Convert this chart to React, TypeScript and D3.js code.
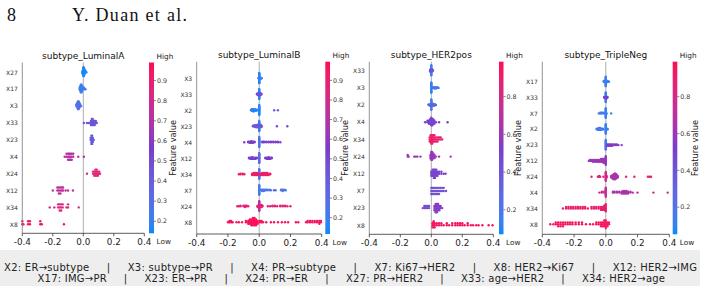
import React from "react";
import * as d3 from "d3";

// [SHAP value, feature value, number of samples]
type Cluster = [number, number, number];

// ---------- subtype_LuminalA ----------
const luminalAFeatures = ["X27", "X17", "X3", "X33", "X23", "X4", "X24", "X12", "X34", "X8"];
const luminalAShap: Cluster[][] = [
  [[-0.006, 0.15, 3], [0, 0.15, 8], [0.003, 0.16, 8], [0.006, 0.15, 6], [0.01, 0.17, 4], [0.015, 0.16, 2], [0.02, 0.15, 1]],
  [[-0.024, 0.2, 2], [-0.02, 0.22, 4], [-0.016, 0.2, 6], [-0.012, 0.2, 6], [-0.008, 0.22, 4], [-0.003, 0.2, 2], [0.005, 0.25, 2], [0.014, 0.2, 1]],
  [[-0.046, 0.28, 2], [-0.04, 0.3, 4], [-0.035, 0.3, 6], [-0.03, 0.32, 6], [-0.025, 0.3, 4], [-0.02, 0.3, 2], [-0.014, 0.28, 1]],
  [[0.004, 0.45, 1], [0.024, 0.45, 1], [0.037, 0.45, 1], [0.05, 0.45, 3], [0.056, 0.47, 4], [0.062, 0.45, 4], [0.068, 0.45, 3], [0.075, 0.46, 3], [0.082, 0.45, 2], [0.088, 0.45, 1]],
  [[0.048, 0.4, 2], [0.053, 0.4, 5], [0.058, 0.4, 5], [0.063, 0.42, 3], [0.069, 0.4, 1]],
  [[-0.122, 0.72, 1], [-0.11, 0.72, 2], [-0.1, 0.72, 3], [-0.092, 0.7, 3], [-0.085, 0.72, 3], [-0.076, 0.72, 3], [-0.066, 0.72, 2], [-0.033, 0.72, 1], [0.004, 0.72, 1]],
  [[0.024, 0.88, 1], [0.064, 0.88, 2], [0.072, 0.88, 3], [0.08, 0.88, 4], [0.088, 0.88, 4], [0.096, 0.88, 3], [0.104, 0.88, 2], [0.11, 0.88, 1]],
  [[-0.2, 0.75, 1], [-0.17, 0.75, 2], [-0.16, 0.75, 3], [-0.15, 0.75, 3], [-0.14, 0.75, 2], [-0.133, 0.75, 2], [-0.116, 0.75, 1], [-0.1, 0.75, 1], [-0.068, 0.75, 1]],
  [[-0.22, 0.85, 1], [-0.19, 0.85, 1], [-0.165, 0.85, 2], [-0.155, 0.85, 3], [-0.145, 0.85, 3], [-0.135, 0.85, 2], [-0.11, 0.85, 1], [-0.1, 0.85, 2], [-0.03, 0.85, 1]],
  [[-0.4, 0.95, 2], [-0.393, 0.95, 1], [-0.362, 0.95, 2], [-0.35, 0.95, 2], [-0.282, 0.95, 2], [-0.272, 0.95, 1], [-0.127, 0.95, 1]],
];
const luminalATicks = [0.2, 0.3, 0.4, 0.5, 0.6, 0.7, 0.8, 0.9];
const luminalARange = [0.14, 0.99];

// ---------- subtype_LuminalB ----------
const luminalBFeatures = ["X3", "X33", "X2", "X23", "X4", "X12", "X34", "X7", "X24", "X8"];
const luminalBShap: Cluster[][] = [
  [[0, 0.15, 24], [-0.004, 0.2, 2], [0.004, 0.2, 4], [0.008, 0.2, 3], [0.012, 0.2, 2], [0.016, 0.2, 1]],
  [[0, 0.15, 20], [-0.014, 0.45, 2], [-0.01, 0.45, 3], [-0.006, 0.45, 5], [0.005, 0.45, 5], [0.01, 0.45, 3], [0.014, 0.45, 2]],
  [[0, 0.15, 20], [-0.052, 0.15, 2], [-0.046, 0.15, 4], [-0.04, 0.15, 5], [-0.034, 0.15, 5], [-0.028, 0.15, 4], [-0.02, 0.15, 3], [-0.012, 0.15, 2], [0.096, 0.4, 1], [0.12, 0.4, 1]],
  [[0, 0.2, 20], [-0.04, 0.42, 2], [-0.03, 0.42, 4], [-0.02, 0.42, 5], [-0.01, 0.42, 6], [0.008, 0.42, 6], [0.015, 0.42, 3], [0.113, 0.5, 1], [0.18, 0.5, 1]],
  [[0, 0.25, 20], [-0.096, 0.55, 1], [-0.07, 0.55, 2], [-0.06, 0.55, 3], [-0.05, 0.55, 4], [-0.04, 0.55, 3], [-0.03, 0.55, 2], [0.02, 0.55, 2], [0.03, 0.55, 2], [0.045, 0.55, 2], [0.06, 0.55, 2], [0.075, 0.55, 2], [0.09, 0.55, 2], [0.105, 0.55, 2], [0.12, 0.55, 2], [0.135, 0.55, 1]],
  [[0, 0.3, 18], [-0.065, 0.55, 2], [-0.055, 0.55, 3], [-0.045, 0.55, 4], [-0.035, 0.55, 3], [-0.025, 0.55, 3], [-0.015, 0.55, 2], [0.04, 0.55, 2], [0.05, 0.55, 3], [0.06, 0.55, 4], [0.07, 0.55, 3], [0.08, 0.55, 2]],
  [[0, 0.3, 16], [-0.13, 0.92, 1], [-0.12, 0.92, 2], [-0.105, 0.92, 2], [-0.095, 0.92, 1], [-0.045, 0.92, 3], [-0.035, 0.92, 4], [-0.025, 0.92, 4], [-0.015, 0.92, 4], [-0.008, 0.92, 3], [0.01, 0.92, 3], [0.02, 0.92, 4], [0.03, 0.92, 4], [0.04, 0.92, 4], [0.05, 0.92, 4], [0.06, 0.92, 3], [0.07, 0.92, 2]],
  [[0, 0.2, 16], [0.012, 0.25, 2], [0.02, 0.25, 3], [0.03, 0.25, 3], [0.04, 0.25, 2], [0.05, 0.25, 2], [0.065, 0.25, 2], [0.075, 0.25, 1], [0.095, 0.3, 1], [0.105, 0.3, 1], [0.14, 0.25, 2], [0.15, 0.25, 3], [0.16, 0.25, 2], [0.17, 0.25, 1]],
  [[0, 0.7, 16], [-0.14, 0.88, 1], [-0.13, 0.88, 1], [-0.12, 0.88, 2], [-0.1, 0.88, 2], [-0.09, 0.88, 3], [-0.08, 0.88, 2], [-0.07, 0.88, 1], [-0.01, 0.88, 3], [0.005, 0.88, 4], [0.015, 0.88, 4], [0.02, 0.88, 2], [0.055, 0.88, 1], [0.07, 0.88, 1], [0.085, 0.88, 2], [0.1, 0.88, 2], [0.115, 0.88, 1], [0.135, 0.88, 2], [0.15, 0.88, 2], [0.165, 0.88, 2], [0.18, 0.88, 1], [0.2, 0.88, 1]],
  [[-0.2, 0.97, 1], [-0.19, 0.97, 2], [-0.18, 0.97, 2], [-0.17, 0.97, 1], [-0.145, 0.97, 1], [-0.13, 0.97, 1], [-0.11, 0.97, 1], [-0.085, 0.97, 2], [-0.07, 0.97, 3], [-0.06, 0.97, 4], [-0.05, 0.97, 5], [-0.04, 0.97, 6], [-0.03, 0.97, 6], [-0.02, 0.97, 5], [-0.01, 0.97, 3], [0.005, 0.97, 2], [0.015, 0.97, 2], [0.025, 0.97, 1], [0.045, 0.97, 1], [0.075, 0.97, 1], [0.095, 0.97, 1], [0.12, 0.97, 1], [0.145, 0.97, 1], [0.165, 0.97, 1], [0.185, 0.97, 1], [0.235, 0.97, 1], [0.25, 0.97, 1], [0.3, 0.97, 1], [0.31, 0.97, 2], [0.325, 0.97, 2], [0.34, 0.97, 2], [0.355, 0.97, 2], [0.37, 0.97, 2], [0.385, 0.97, 3], [0.395, 0.97, 2]],
];
const luminalBTicks = [0.2, 0.3, 0.4, 0.5, 0.6, 0.7, 0.8, 0.9];
const luminalBRange = [0.117, 0.995];

// ---------- subtype_HER2pos ----------
const her2Features = ["X33", "X3", "X2", "X4", "X34", "X24", "X12", "X7", "X23", "X8"];
const her2Shap: Cluster[][] = [
  [[0, 0.12, 14], [-0.008, 0.42, 3], [-0.004, 0.42, 4], [0.004, 0.42, 4], [0.01, 0.42, 2]],
  [[0, 0.12, 16], [0.01, 0.2, 2], [0.02, 0.2, 3], [0.03, 0.2, 3], [0.04, 0.2, 2], [0.047, 0.2, 1]],
  [[0, 0.15, 16], [-0.017, 0.3, 2], [-0.008, 0.3, 3], [0.005, 0.3, 4], [0.01, 0.3, 4], [0.018, 0.3, 3], [0.025, 0.3, 2], [0.03, 0.3, 1]],
  [[-0.04, 0.5, 1], [-0.025, 0.5, 2], [-0.015, 0.5, 3], [-0.008, 0.5, 4], [0, 0.5, 6], [0.006, 0.5, 5], [0.012, 0.5, 4], [0.02, 0.5, 3], [0.03, 0.5, 1], [0.05, 0.5, 1], [0.105, 0.55, 1]],
  [[-0.01, 0.9, 3], [-0.004, 0.9, 4], [0, 0.9, 5], [0.006, 0.9, 5], [0.012, 0.9, 4], [0.02, 0.9, 4], [0.03, 0.9, 3], [0.04, 0.9, 3], [0.05, 0.9, 2], [0.06, 0.9, 2], [0.07, 0.9, 1]],
  [[-0.152, 0.6, 2], [-0.146, 0.6, 1], [-0.11, 0.6, 1], [-0.1, 0.6, 1], [-0.09, 0.6, 1], [-0.07, 0.6, 1], [-0.005, 0.6, 3], [0, 0.6, 6], [0.005, 0.6, 6], [0.012, 0.6, 4], [0.02, 0.6, 3], [0.03, 0.6, 1], [0.05, 0.6, 1], [0.125, 0.65, 1]],
  [[0, 0.5, 3], [0.008, 0.5, 4], [0.016, 0.5, 5], [0.024, 0.5, 5], [0.032, 0.5, 4], [0.04, 0.5, 3], [0.05, 0.5, 2], [0.065, 0.5, 2], [0.08, 0.5, 1], [0.092, 0.5, 1]],
  [[0, 0.42, 3], [0.008, 0.42, 3], [0.016, 0.42, 3], [0.024, 0.42, 3], [0.032, 0.42, 3], [0.04, 0.42, 3], [0.05, 0.42, 3], [0.06, 0.42, 2], [0.07, 0.42, 2], [0.08, 0.42, 2], [0.095, 0.42, 1]],
  [[-0.055, 0.45, 1], [-0.045, 0.45, 2], [-0.035, 0.45, 2], [-0.025, 0.45, 2], [-0.015, 0.45, 2], [0.02, 0.55, 3], [0.028, 0.55, 5], [0.036, 0.55, 5], [0.044, 0.55, 4], [0.052, 0.55, 3], [0.06, 0.55, 2], [0.07, 0.55, 1]],
  [[0.008, 0.95, 3], [0.015, 0.95, 4], [0.022, 0.95, 3], [0.035, 0.95, 2], [0.05, 0.95, 2], [0.065, 0.95, 2], [0.08, 0.95, 1], [0.1, 0.95, 2], [0.115, 0.95, 1], [0.135, 0.95, 2], [0.155, 0.95, 2], [0.17, 0.95, 2], [0.185, 0.95, 2], [0.2, 0.95, 2], [0.215, 0.95, 1], [0.235, 0.95, 2], [0.255, 0.95, 1], [0.27, 0.95, 1], [0.29, 0.95, 1], [0.305, 0.95, 1], [0.33, 0.95, 1], [0.37, 0.95, 1], [0.395, 0.95, 1]],
];
const her2Ticks = [0.2, 0.4, 0.6, 0.8];
const her2Range = [0.07, 0.985];

// ---------- subtype_TripleNeg ----------
const tripleNegFeatures = ["X17", "X33", "X7", "X2", "X23", "X12", "X24", "X4", "X34", "X8"];
const tripleNegShap: Cluster[][] = [
  [[0, 0.12, 16], [-0.013, 0.12, 2], [-0.006, 0.12, 3], [0.006, 0.12, 3], [0.012, 0.12, 2], [0.02, 0.12, 1]],
  [[0, 0.12, 16], [-0.01, 0.5, 2], [-0.005, 0.5, 3], [0.005, 0.5, 3], [0.01, 0.5, 2]],
  [[0, 0.12, 16], [-0.044, 0.15, 1], [-0.035, 0.15, 2], [-0.028, 0.15, 2], [-0.02, 0.15, 2], [-0.01, 0.15, 2], [0.006, 0.15, 1], [0.034, 0.15, 1]],
  [[0, 0.12, 16], [-0.057, 0.15, 2], [-0.05, 0.15, 3], [-0.043, 0.15, 4], [-0.036, 0.15, 4], [-0.028, 0.15, 3], [-0.02, 0.15, 2], [-0.015, 0.15, 1], [0.008, 0.15, 2], [0.012, 0.15, 1]],
  [[0, 0.15, 16], [0.008, 0.55, 3], [0.016, 0.55, 3], [0.024, 0.55, 3], [0.032, 0.55, 3], [0.04, 0.55, 3], [0.05, 0.55, 2], [0.06, 0.55, 2], [0.07, 0.55, 2], [0.08, 0.55, 1], [0.1, 0.55, 1]],
  [[0, 0.55, 10], [-0.107, 0.6, 1], [-0.1, 0.6, 2], [-0.09, 0.6, 2], [-0.08, 0.6, 3], [-0.07, 0.6, 3], [-0.06, 0.6, 3], [-0.05, 0.6, 3], [-0.04, 0.6, 3], [-0.03, 0.6, 4], [-0.022, 0.6, 4], [-0.015, 0.6, 5], [-0.008, 0.6, 5]],
  [[0, 0.8, 12], [-0.09, 0.85, 1], [-0.05, 0.85, 1], [-0.042, 0.85, 2], [-0.035, 0.85, 1], [-0.015, 0.85, 1], [0.005, 0.8, 3], [0.034, 0.65, 3], [0.042, 0.65, 5], [0.05, 0.65, 7], [0.058, 0.65, 8], [0.066, 0.65, 6], [0.075, 0.65, 3], [0.128, 0.85, 1], [0.18, 0.85, 1], [0.265, 0.85, 1], [0.275, 0.85, 1], [0.285, 0.85, 1]],
  [[0, 0.75, 12], [-0.04, 0.75, 1], [-0.025, 0.75, 2], [-0.01, 0.75, 2], [0.045, 0.65, 2], [0.055, 0.65, 2], [0.07, 0.65, 2], [0.085, 0.65, 2], [0.1, 0.65, 3], [0.11, 0.65, 4], [0.12, 0.65, 4], [0.13, 0.65, 4], [0.14, 0.65, 3], [0.155, 0.65, 2], [0.17, 0.65, 1], [0.2, 0.7, 1], [0.3, 0.75, 1], [0.39, 0.75, 1]],
  [[-0.27, 0.9, 1], [-0.25, 0.9, 2], [-0.235, 0.9, 2], [-0.22, 0.9, 2], [-0.205, 0.9, 2], [-0.19, 0.9, 2], [-0.175, 0.9, 2], [-0.16, 0.9, 2], [-0.145, 0.9, 2], [-0.13, 0.9, 2], [-0.113, 0.9, 1], [-0.09, 0.9, 2], [-0.075, 0.9, 2], [-0.06, 0.9, 2], [-0.045, 0.9, 2], [-0.03, 0.9, 3], [-0.02, 0.9, 3], [-0.01, 0.9, 4], [-0.004, 0.9, 4], [0, 0.9, 6]],
  [[-0.35, 0.95, 1], [-0.33, 0.95, 1], [-0.315, 0.95, 2], [-0.3, 0.95, 3], [-0.285, 0.95, 3], [-0.27, 0.95, 3], [-0.255, 0.95, 2], [-0.24, 0.95, 2], [-0.225, 0.95, 2], [-0.21, 0.95, 2], [-0.19, 0.95, 2], [-0.17, 0.95, 2], [-0.15, 0.95, 2], [-0.125, 0.95, 1], [-0.1, 0.95, 1], [-0.08, 0.95, 1], [-0.06, 0.95, 2], [-0.045, 0.95, 2], [-0.03, 0.95, 3], [-0.02, 0.95, 3], [-0.01, 0.95, 4], [0, 0.95, 5], [0.01, 0.95, 3], [0.02, 0.95, 2]],
];
const tripleNegTicks = [0.2, 0.4, 0.6, 0.8];
const tripleNegRange = [0.053, 0.99];

const xTicks = [-0.4, -0.2, 0.0, 0.2, 0.4];

const captionLine1 = ["X2: ER→subtype", "X3: subtype→PR", "X4: PR→subtype", "X7: Ki67→HER2", "X8: HER2→Ki67", "X12: HER2→IMG"];
const captionLine2 = ["X17: IMG→PR", "X23: ER→PR", "X24: PR→ER", "X27: PR→HER2", "X33: age→HER2", "X34: HER2→age"];

// blue → purple → red feature-value colormap
const redBlue = d3.piecewise(d3.interpolateLab, ["#0a8af8", "#7b3ccb", "#ff0a55"]);

const SANS = "DejaVu Sans, sans-serif";

interface Layout {
  xMin: number; xMax: number; top: number; bottom: number;
  rowTop: number; rowBottom: number; cbX: number; cbW: number; fvX: number;
}

const panels = [
  { id: "a", title: "subtype_LuminalA", features: luminalAFeatures, rows: luminalAShap, ticks: luminalATicks, range: luminalARange,
    layout: { xMin: 22.3, xMax: 144.3, top: 62.5, bottom: 233.3, rowTop: 72.3, rowBottom: 224.3, cbX: 149, cbW: 5, fvX: 175.5 } },
  { id: "b", title: "subtype_LuminalB", features: luminalBFeatures, rows: luminalBShap, ticks: luminalBTicks, range: luminalBRange,
    layout: { xMin: 196.7, xMax: 321.7, top: 61.7, bottom: 234, rowTop: 78.3, rowBottom: 222.3, cbX: 325.3, cbW: 4.7, fvX: 347.5 } },
  { id: "c", title: "subtype_HER2pos", features: her2Features, rows: her2Shap, ticks: her2Ticks, range: her2Range,
    layout: { xMin: 369.3, xMax: 493.3, top: 61.7, bottom: 234.3, rowTop: 70.7, rowBottom: 225.3, cbX: 499, cbW: 4.5, fvX: 521 } },
  { id: "d", title: "subtype_TripleNeg", features: tripleNegFeatures, rows: tripleNegShap, ticks: tripleNegTicks, range: tripleNegRange,
    layout: { xMin: 542.3, xMax: 669.3, top: 61.7, bottom: 234.3, rowTop: 81.7, rowBottom: 224.3, cbX: 672.7, cbW: 4.6, fvX: 697.5 } },
];

// Beeswarm layout as in shap: quantize into bins, stack alternately around the row.
function beeswarm(clusters: Cluster[]) {
  const pts: { v: number; f: number }[] = [];
  clusters.forEach(([v, f, n]) => {
    for (let i = 0; i < n; i++) pts.push({ v, f });
  });
  const lo = d3.min(pts, (p) => p.v) as number;
  const hi = d3.max(pts, (p) => p.v) as number;
  const nbins = 100;
  const quant = pts.map((p) => Math.round((nbins * (p.v - lo)) / (hi - lo + 1e-8)));
  const order = d3.range(pts.length).sort((a, b) => quant[a] - quant[b] || a - b);
  const ys = new Array(pts.length).fill(0);
  let layer = 0;
  let last = -1;
  for (const i of order) {
    if (quant[i] !== last) layer = 0;
    ys[i] = Math.ceil(layer / 2) * ((layer % 2) * 2 - 1);
    layer++;
    last = quant[i];
  }
  const m = d3.max(ys, (y) => y + 1) as number;
  const k = 0.9 * (0.4 / m);
  return pts.map((p, i) => ({ ...p, dy: ys[i] * k }));
}

function Panel({ p }: { p: (typeof panels)[number] }) {
  const L: Layout = p.layout;
  const x = d3.scaleLinear().domain([-0.4, 0.4]).range([L.xMin, L.xMax]);
  const y = d3.scaleLinear().domain([0, p.features.length - 1]).range([L.rowTop, L.rowBottom]);
  const spacing = (L.rowBottom - L.rowTop) / (p.features.length - 1);
  const cy = d3.scaleLinear().domain(p.range).range([L.bottom, L.top]);
  const tNorm = d3.scaleLinear().domain(p.range).range([0, 1]).clamp(true);
  const gradId = `cb-${p.id}`;
  const cx = (L.xMin + L.xMax) / 2;
  const swarms = p.rows.map((r) => beeswarm(r));
  const cbRight = L.cbX + L.cbW;

  return (
    <g>
      <defs>
        <linearGradient id={gradId} x1="0" y1="1" x2="0" y2="0">
          {d3.range(0, 1.0001, 0.05).map((t) => (
            <stop key={t} offset={t} stopColor={redBlue(t)} />
          ))}
        </linearGradient>
      </defs>
      {/* zero line */}
      <line x1={x(0)} x2={x(0)} y1={L.top} y2={L.bottom} stroke="#999" strokeWidth={0.8} />
      {/* dots */}
      {swarms.map((pts, ri) =>
        pts.map((d, i) => (
          <circle key={`${ri}-${i}`} cx={x(d.v)} cy={y(ri) - d.dy * spacing} r={1.2} fill={redBlue(tNorm(d.f))} />
        ))
      )}
      {/* left spine */}
      <line x1={L.xMin} x2={L.xMin} y1={L.top} y2={L.bottom} stroke="#777" strokeWidth={0.8} />
      {/* bottom axis */}
      <line x1={L.xMin} x2={L.xMax} y1={L.bottom} y2={L.bottom} stroke="#333" strokeWidth={0.8} />
      {xTicks.map((t) => (
        <g key={t}>
          <line x1={x(t)} x2={x(t)} y1={L.bottom} y2={L.bottom + 3} stroke="#333" strokeWidth={0.8} />
          <text x={x(t)} y={L.bottom + 11.5} fontSize={8.8} fontFamily={SANS} textAnchor="middle" fill="#222">
            {t.toFixed(1)}
          </text>
        </g>
      ))}
      {/* feature labels */}
      {p.features.map((f, i) => (
        <text key={f} x={L.xMin - 4.5} y={y(i) + 2.2} fontSize={6} fontFamily={SANS} textAnchor="end" fill="#333">
          {f}
        </text>
      ))}
      {/* title */}
      <text x={cx} y={L.top - 3.5} fontSize={9} fontFamily={SANS} textAnchor="middle" fill="#111">
        {p.title}
      </text>
      {/* colour bar */}
      <rect x={L.cbX} y={L.top} width={L.cbW} height={L.bottom - L.top} fill={`url(#${gradId})`} />
      {p.ticks.map((t) => (
        <g key={t}>
          <line x1={cbRight} x2={cbRight + 2} y1={cy(t)} y2={cy(t)} stroke="#333" strokeWidth={0.6} />
          <text x={cbRight + 3} y={cy(t) + 2.2} fontSize={6.3} fontFamily={SANS} fill="#333">
            {t.toFixed(1)}
          </text>
        </g>
      ))}
      <text x={cbRight + 2.5} y={L.top - 4} fontSize={7.3} fontFamily={SANS} fill="#222">High</text>
      <text x={cbRight + 2.5} y={L.bottom + 11} fontSize={7.3} fontFamily={SANS} fill="#222">Low</text>
      <text
        transform={`translate(${L.fvX},${(L.top + L.bottom) / 2}) rotate(-90)`}
        fontSize={8.2}
        fontFamily={SANS}
        textAnchor="middle"
        fill="#222"
      >
        Feature value
      </text>
    </g>
  );
}

const SEP = "     |     ";

export default function App() {
  return (
    <svg
      width={705}
      height={293}
      viewBox="0 0 705 293"
      style={{ position: "absolute", left: 0, top: 0, background: "#fff" }}
    >
      <rect width={705} height={293} fill="#fff" />
      <text x={7} y={20.5} fontSize={18} fontFamily="Liberation Serif, serif" fill="#111">8</text>
      <text x={72} y={20.5} fontSize={18} fontFamily="Liberation Serif, serif" fill="#111" textLength={115} lengthAdjust="spacing">
        Y. Duan et al.
      </text>
      {panels.map((p) => (
        <Panel key={p.id} p={p} />
      ))}
      <rect x={0} y={250} width={700} height={36} fill="#eeeeee" />
      <text x={4} y={271.3} fontSize={10} fontFamily={SANS} fill="#222" style={{ whiteSpace: "pre" }} textLength={693} lengthAdjust="spacing">
        {captionLine1.join(SEP)}
      </text>
      <text x={37.5} y={282.3} fontSize={10} fontFamily={SANS} fill="#222" style={{ whiteSpace: "pre" }} textLength={627.5} lengthAdjust="spacing">
        {captionLine2.join(SEP)}
      </text>
    </svg>
  );
}
